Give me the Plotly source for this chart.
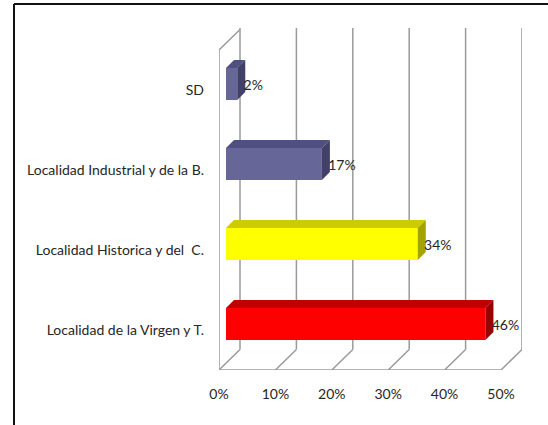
import plotly.graph_objects as go

# Data (bottom to top)
categories = ["Localidad de la Virgen y T.", "Localidad Historica y del  C.",
              "Localidad Industrial y de la B.", "SD"]
values = [46, 34, 17, 2]
labels = ["46%", "34%", "17%", "2%"]
x_ticks = [0, 10, 20, 30, 40, 50]
x_tick_labels = ["0%", "10%", "20%", "30%", "40%", "50%"]

front_colors = ["#ff0000", "#ffff00", "#666699", "#666699"]
top_colors = ["#c00000", "#cccc00", "#505080", "#505080"]
side_colors = ["#990000", "#a3a300", "#404068", "#404068"]

W, H = 548, 425
L, R, T, B = 219, 522, 28, 370          # plot area in page pixels
PX = 5.64                                # pixels per percentage point
PY = 80.0                                # pixels per category band
XMAX = (R - L) / PX
YMIN, YMAX = -0.5, -0.5 + (B - T) / PY
WALL_X, WALL_Y = 21 / PX, 20.5 / PY      # 3D wall offset
BAR_X0, BAR_DY = 7 / PX, 6 / PY          # bar's offset from the front plane
DEPTH_X, DEPTH_Y = 8 / PX, 8 / PY        # bar depth
HALF = 16 / PY                           # half bar height
GRID = "#9a9a9a"
TEXT = "#262626"
FONT = "Lato, Carlito, Calibri, sans-serif"
FS = 14

fig = go.Figure()


def line(xs, ys):
    fig.add_trace(go.Scatter(x=xs, y=ys, mode="lines", hoverinfo="skip", showlegend=False,
                             cliponaxis=False, line=dict(color=GRID, width=1.5)))


def poly(xs, ys, color):
    fig.add_trace(go.Scatter(x=xs, y=ys, mode="lines", fill="toself", fillcolor=color,
                             hoverinfo="skip", showlegend=False, line=dict(width=0)))


# Walls and floor
for t in x_ticks:
    line([t + WALL_X, t + WALL_X], [YMAX, YMIN + WALL_Y])
    line([t + WALL_X, t], [YMIN + WALL_Y, YMIN])
line([x_ticks[0], x_ticks[-1]], [YMIN, YMIN])
line([0, 0, WALL_X], [YMIN, 3.5, 3.5 + WALL_Y])

# 3D bars
for i, (v, lab) in enumerate(zip(values, labels)):
    y0 = i + BAR_DY - HALF
    y1 = i + BAR_DY + HALF
    x0 = BAR_X0
    x1 = BAR_X0 + v
    poly([x0, x1, x1, x0, x0], [y0, y0, y1, y1, y0], front_colors[i])
    poly([x0, x1, x1 + DEPTH_X, x0 + DEPTH_X, x0],
         [y1, y1, y1 + DEPTH_Y, y1 + DEPTH_Y, y1], top_colors[i])
    poly([x1, x1 + DEPTH_X, x1 + DEPTH_X, x1, x1],
         [y0, y0 + DEPTH_Y, y1 + DEPTH_Y, y1, y0], side_colors[i])
    fig.add_trace(go.Scatter(x=[x1 + DEPTH_X - 0.3], y=[i + BAR_DY - 2 / PY], mode="text", text=[lab],
                             textposition="middle right", hoverinfo="skip", showlegend=False,
                             cliponaxis=False,
                             textfont=dict(family=FONT, size=FS, color=TEXT)))

# Outer frame (top and left edges only)
fx = lambda p: (p - L) / (R - L)
fy = lambda p: (B - p) / (B - T)
frame = dict(color="#111111", width=2)
fig.add_shape(type="line", xref="paper", yref="paper", x0=fx(14), x1=fx(W), y0=fy(4), y1=fy(4), line=frame)
fig.add_shape(type="line", xref="paper", yref="paper", x0=fx(14), x1=fx(14), y0=fy(4), y1=fy(H), line=frame)

fig.update_layout(
    width=W, height=H, autosize=False,
    margin=dict(l=L, r=W - R, t=T, b=H - B, pad=0, autoexpand=False),
    paper_bgcolor="white", plot_bgcolor="white", showlegend=False,
    font=dict(family=FONT, size=FS, color=TEXT),
    xaxis=dict(range=[0, XMAX], tickvals=x_ticks, ticktext=x_tick_labels, showgrid=False,
               zeroline=False, showline=False, ticks="", ticklabelstandoff=14, fixedrange=True,
               automargin=False),
    yaxis=dict(range=[YMIN, YMAX], tickvals=list(range(len(categories))), ticktext=categories,
               showgrid=False, zeroline=False, showline=False, ticks="", ticklabelstandoff=14,
               fixedrange=True, automargin=False),
)

fig.write_html("out.html", config={"displayModeBar": False},
               post_script="document.body.style.margin='0';document.documentElement.style.overflow='hidden';")
